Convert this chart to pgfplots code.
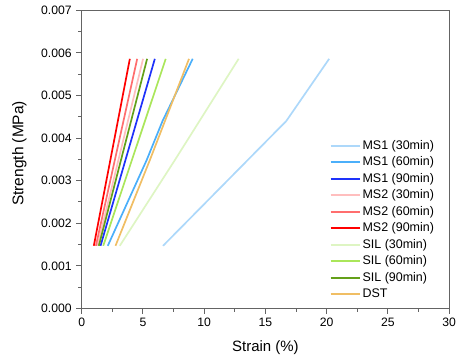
\documentclass[border=0pt]{standalone}
\usepackage{pgfplots}
\pgfplotsset{compat=1.18}
\usepackage{fontspec}
\setmainfont{Liberation Sans}
\definecolor{colA}{RGB}{173,216,250}
\definecolor{colB}{RGB}{75,175,250}
\definecolor{colC}{RGB}{30,50,250}
\definecolor{colD}{RGB}{255,190,190}
\definecolor{colE}{RGB}{255,110,110}
\definecolor{colF}{RGB}{255,0,0}
\definecolor{colG}{RGB}{222,245,195}
\definecolor{colH}{RGB}{170,230,90}
\definecolor{colI}{RGB}{100,160,25}
\definecolor{colJ}{RGB}{240,190,100}
\definecolor{axgray}{RGB}{100,100,100}
\begin{document}
\begin{tikzpicture}
\begin{axis}[
  scale only axis,
  width=368pt, height=298.5pt,
  xmin=0, xmax=30, ymin=0, ymax=0.007,
  xtick={0,5,...,30},
  ytick={0,0.001,...,0.007},
  minor x tick num=1, minor y tick num=1,
  tick align=outside,
  xtick pos=bottom, ytick pos=left,
  major tick length=5.5pt, minor tick length=3.5pt,
  axis line style={axgray, line width=1.4pt},
  every tick/.style={axgray, line width=1pt},
  /pgf/number format/assume math mode=true,
  yticklabel style={/pgf/number format/fixed, /pgf/number format/precision=3, /pgf/number format/fixed zerofill},
  scaled y ticks=false,
  ticklabel style={font=\fontsize{12.2}{14}\selectfont},
  xticklabel style={yshift=-1pt, inner xsep=0pt},
  yticklabel style={xshift=-1pt},
  xlabel={Strain (\%)}, ylabel={Strength (MPa)},
  xlabel style={font=\fontsize{15}{17}\selectfont, at={(rel axis cs:0.5,-0.146)}, anchor=base},
  ylabel style={font=\fontsize{15.5}{17}\selectfont, at={(rel axis cs:-0.1495,0.52)}, anchor=south, inner sep=0pt},
  legend style={draw=none, fill=none, at={(rel axis cs:0.674,0.568)}, anchor=north west,
    font=\fontsize{12.5}{14}\selectfont, inner sep=0pt, row sep=3.5pt,
    nodes={inner ysep=1pt, inner xsep=2pt, text height=9pt, text depth=2pt}},
  legend image code/.code={\draw[#1, line width=2pt] (0pt,0pt) -- (29pt,0pt);},
  legend cell align=left,
  every axis plot/.append style={line width=1.7pt},
]
\addplot[colA] coordinates {(6.64,0.00147) (16.7,0.0044) (20.2,0.00586)};
\addplot[colB] coordinates {(2.13,0.00147) (5.3,0.00348) (6.6,0.0044) (9.06,0.00586)};
\addplot[colC] coordinates {(1.54,0.00147) (5.97,0.00586)};
\addplot[colD] coordinates {(1.29,0.00147) (5.01,0.00586)};
\addplot[colE] coordinates {(1.16,0.00147) (4.53,0.00586)};
\addplot[colF] coordinates {(0.99,0.00147) (3.93,0.00586)};
\addplot[colG] coordinates {(3.11,0.00147) (7.6,0.00348) (12.81,0.00586)};
\addplot[colH] coordinates {(1.76,0.00147) (6.86,0.00586)};
\addplot[colI] coordinates {(1.40,0.00147) (5.34,0.00586)};
\addplot[colJ] coordinates {(2.76,0.00147) (5.56,0.00348) (8.76,0.00586)};
\legend{MS1 (30min),MS1 (60min),MS1 (90min),MS2 (30min),MS2 (60min),MS2 (90min),SIL (30min),SIL (60min),SIL (90min),DST}
\end{axis}
\path (current axis.south west) ++(-81.8pt,-49.3pt);
\path (current axis.north east) ++(6pt,10.3pt);
\end{tikzpicture}
\end{document}
